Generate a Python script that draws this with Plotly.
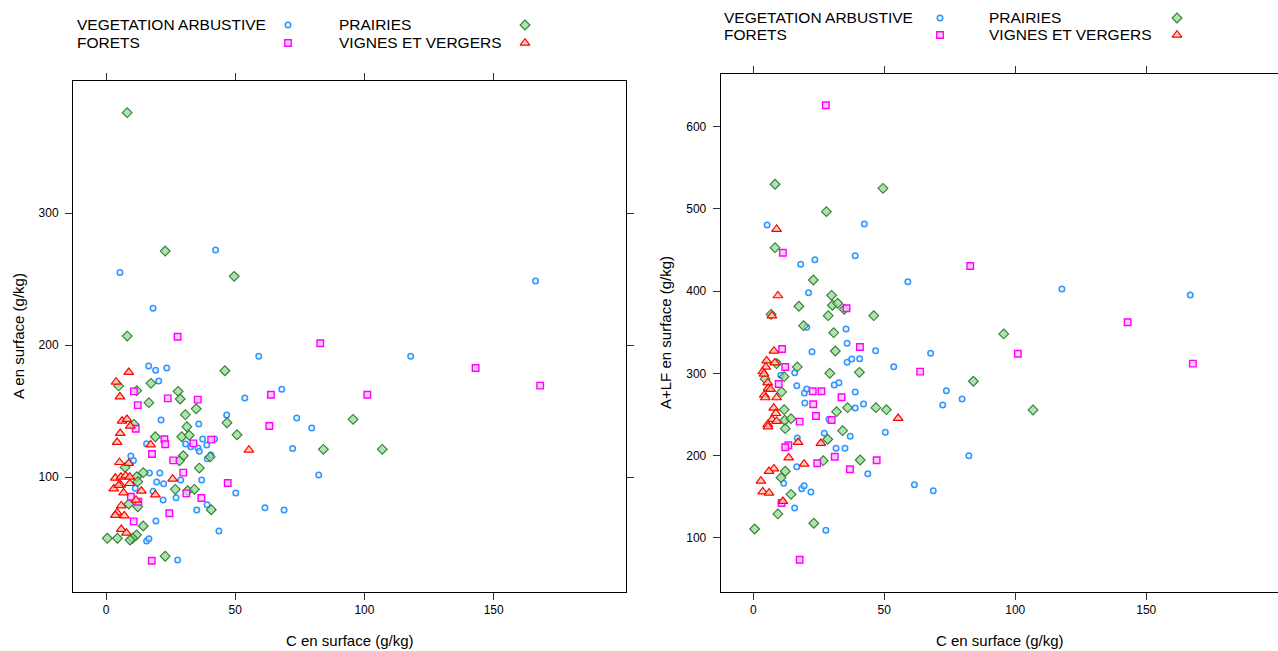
import plotly.graph_objects as go

W, H = 1278, 651

GROUPS = ["VEGETATION ARBUSTIVE", "PRAIRIES", "FORETS", "VIGNES ET VERGERS"]

# ---------------- Left panel: C en surface (x) vs A en surface (y) ----------------
left_veg_x = [42.4, 5.4, 18.2, 166.2, 59.1, 117.9, 16.5, 19.2, 23.5, 20.4, 68.0, 53.7, 46.7, 21.3, 35.9, 73.8,
              79.6, 37.4, 42.0, 30.8, 32.8, 35.6, 36.1, 39.0, 15.7, 72.2, 9.6, 10.6, 39.2, 40.6, 16.8, 20.8,
              82.3, 28.9, 37.0, 19.6, 22.3, 11.3, 18.2, 22.1, 27.1, 50.2, 39.1, 35.1, 61.5, 68.9, 19.3, 43.7,
              15.7, 16.6, 27.7]
left_veg_y = [272, 255, 227.8, 248.5, 191.4, 191.4, 184.1, 180.8, 182.6, 172.7, 166.4, 159.8, 147, 143.2, 140.2, 144.7,
              137.1, 128.8, 128.8, 125, 123, 122, 119.5, 124.2, 125.2, 121.7, 115.9, 112.6, 113.9, 116.7, 103, 103,
              101.5, 97.7, 97.7, 96.2, 94.9, 91.4, 89.2, 82.6, 84.3, 87.9, 79, 75, 76.8, 75, 66.7, 59.1,
              51.5, 53.3, 37.1]

left_pra_x = [8.2, 22.9, 49.6, 8.2, 46.0, 4.9, 17.4, 11.9, 27.9, 28.7, 16.6, 34.9, 30.7, 46.8, 95.6, 10.8,
              31.3, 19.1, 29.3, 32.2, 50.7, 84.1, 106.9, 29.9, 28.4, 40.3, 7.4, 14.4, 36.1, 11.9, 12.3, 26.8,
              31.6, 34.2, 8.8, 12.3, 40.7, 14.4, 11.8, 10.3, 0.5, 4.4, 9.3, 22.9]
left_pra_y = [376, 271.2, 252, 206.8, 180.5, 169, 171, 165.4, 164.9, 159.1, 156.3, 151.7, 147.2, 141.1, 143.7, 139.9,
              138.1, 130.5, 130.5, 131.6, 132, 121, 121, 116.1, 112.3, 115.2, 107.3, 103.3, 106.8, 100.2, 96.5, 90.7,
              89.6, 90.7, 79.5, 77.5, 75.2, 62.9, 56.1, 53.6, 53.6, 53.6, 52.3, 40]

left_for_x = [27.7, 82.9, 143.0, 168.0, 101.1, 10.8, 23.9, 35.5, 63.8, 12.3, 63.2, 11.5, 22.6, 22.9, 33.8, 40.7,
              17.8, 26.0, 29.9, 47.1, 31.1, 36.9, 24.5, 10.7, 17.7, 9.6, 12.5]
left_for_y = [206.3, 201.3, 182.6, 169.2, 162.3, 164.9, 159.6, 158.6, 162.3, 154.5, 138.6, 136.6, 128.6, 124.8, 125.5, 128.3,
              117.4, 112.6, 103.3, 95.5, 87.6, 84.1, 72.5, 66.4, 36.6, 85.1, 81.3]

left_vig_x = [8.8, 3.9, 5.4, 6.2, 8.1, 9.4, 5.5, 4.3, 17.3, 55.3, 5.2, 8.8, 25.8, 3.6, 5.8, 7.6,
              9.2, 5.7, 3.0, 9.2, 6.8, 4.9, 13.7, 11.6, 19.1, 5.9, 4.3, 7.1, 3.6, 5.9, 7.9]
left_vig_y = [179.3, 172, 160.8, 142.4, 143.7, 138.6, 133.1, 126.3, 124.5, 120.5, 111.1, 110.4, 98.5, 99.2, 100, 101,
              100, 93.9, 91.1, 95.2, 88.1, 93.7, 89.4, 82.6, 86.6, 78.3, 73, 70.7, 71, 60.4, 57.6]

# ---------------- Right panel: C en surface (x) vs A+LF en surface (y) ----------------
right_veg_x = [5.3, 42.4, 18.1, 23.5, 38.9, 59.0, 21.1, 117.8, 166.8, 20.4, 35.4, 35.8, 22.4, 46.7, 67.7, 35.8,
               37.6, 40.6, 53.6, 15.8, 10.5, 9.2, 16.6, 30.9, 32.7, 19.5, 20.4, 38.9, 73.7, 79.7, 72.3, 19.7,
               42.1, 38.9, 28.9, 50.4, 27.1, 37.0, 16.8, 31.6, 35.0, 82.3, 16.6, 43.7, 11.6, 61.5, 68.7, 18.5,
               19.4, 22.0, 15.8, 27.7]
right_veg_y = [480.5, 481.7, 432.7, 438.3, 443.2, 411.6, 398.2, 402.7, 395.4, 356.1, 354.1, 336.7, 326.5, 327.7, 324.5, 313.6,
               317.6, 318, 308.2, 301, 297.8, 313.1, 285.1, 286, 288.8, 276.3, 281.1, 277.5, 279.1, 269, 261.7, 264.1,
               262.9, 258, 244.3, 228.5, 227.3, 223.6, 221.6, 209, 209, 200, 186.7, 178.2, 166.5, 164.8, 157.5, 159.9,
               163.6, 155.9, 136.5, 109.4]

right_pra_x = [8.3, 49.5, 27.9, 8.3, 22.9, 29.9, 17.4, 30.2, 32.2, 34.7, 6.8, 28.6, 46.0, 19.2, 30.7, 95.6,
               106.8, 84.0, 31.3, 8.9, 16.8, 29.2, 40.5, 11.8, 4.5, 10.8, 36.0, 46.8, 50.8, 11.8, 31.8, 12.0,
               14.4, 12.2, 34.1, 28.4, 26.7, 40.8, 12.2, 10.6, 14.4, 9.4, 23.1, 0.5]
right_pra_y = [530, 525, 496.7, 452.9, 413.6, 395, 381.7, 382.9, 385.3, 378, 371.9, 370.2, 370.2, 358.1, 349.6, 348,
               255.6, 290.5, 327.3, 311.9, 307.9, 300.2, 301.4, 296.1, 293.3, 277.5, 258.4, 258.4, 256, 256, 253.5, 243.1,
               245, 232.9, 230.4, 220, 194, 194.8, 181.1, 173.3, 153.1, 129.2, 117.9, 110.9]

right_for_x = [27.7, 11.3, 82.8, 35.6, 142.9, 101.0, 167.8, 40.7, 11.0, 12.2, 63.7, 9.7, 22.7, 26.0, 33.7, 22.9,
               23.9, 29.9, 17.7, 13.4, 12.2, 31.1, 47.1, 24.4, 36.9, 10.8, 17.7]
right_for_y = [626, 446.8, 430.7, 379.2, 362.2, 324, 311.9, 332.2, 329.8, 307.9, 302.2, 287.2, 278.3, 278.3, 271, 262.5,
               248.3, 243.5, 241.4, 212.7, 210.3, 198.8, 194.5, 190.8, 183.5, 142.5, 73.6]

right_vig_x = [8.9, 9.4, 7.1, 7.9, 5.1, 8.2, 4.8, 3.6, 4.1, 5.5, 5.7, 6.6, 4.2, 4.6, 8.9, 7.8,
               8.6, 7.2, 8.9, 5.5, 5.6, 55.3, 17.1, 25.8, 13.5, 19.4, 7.9, 6.0, 2.9, 3.6, 6.0, 11.3]
right_vig_y = [475.3, 394.6, 370.2, 327.3, 315.5, 313.1, 307.9, 302.2, 299.4, 288.8, 282, 280.8, 273.8, 270.6, 270.6, 258,
               251.5, 244.3, 242, 238, 235.3, 245.5, 216.3, 215.1, 197.6, 190, 184.2, 181.1, 169.3, 156.3, 154.7, 144.6]

x_ticks = [0, 50, 100, 150]
left_y_ticks = [100, 200, 300]
right_y_ticks = [100, 200, 300, 400, 500, 600]

x_title = "C en surface (g/kg)"
left_y_title = "A en surface (g/kg)"
right_y_title = "A+LF en surface (g/kg)"

# ---------------- styles ----------------
FONT = "Liberation Sans, Arial, sans-serif"
STYLE = {
    "VEGETATION ARBUSTIVE": dict(symbol="circle", size=5.5, color="rgba(220,238,255,0.6)",
                                 line=dict(color="#2f95ff", width=1.5)),
    "PRAIRIES": dict(symbol="diamond", size=7.5, color="rgba(150,215,150,0.75)",
                     line=dict(color="#2f7f2f", width=1.1)),
    "FORETS": dict(symbol="square", size=6.5, color="rgba(255,195,255,0.8)",
                   line=dict(color="#ff00ff", width=1.4)),
    "VIGNES ET VERGERS": dict(symbol="triangle-up", size=8.5, color="rgba(255,200,170,0.85)",
                              line=dict(color="#ff0000", width=1.2)),
}

left_data = {
    "VEGETATION ARBUSTIVE": (left_veg_x, left_veg_y),
    "PRAIRIES": (left_pra_x, left_pra_y),
    "FORETS": (left_for_x, left_for_y),
    "VIGNES ET VERGERS": (left_vig_x, left_vig_y),
}
right_data = {
    "VEGETATION ARBUSTIVE": (right_veg_x, right_veg_y),
    "PRAIRIES": (right_pra_x, right_pra_y),
    "FORETS": (right_for_x, right_for_y),
    "VIGNES ET VERGERS": (right_vig_x, right_vig_y),
}

fig = go.Figure()
for g in GROUPS:
    x, y = left_data[g]
    fig.add_trace(go.Scatter(x=x, y=y, mode="markers", marker=STYLE[g], name=g,
                             showlegend=False, xaxis="x", yaxis="y", hoverinfo="x+y"))
for g in GROUPS:
    x, y = right_data[g]
    fig.add_trace(go.Scatter(x=x, y=y, mode="markers", marker=STYLE[g], name=g,
                             showlegend=False, xaxis="x2", yaxis="y2", hoverinfo="x+y"))

# ---------------- legends (keys drawn on a transparent pixel overlay axis) ----------------
LEG = [
    dict(t1=75, k1=288, t2=337, k2=525, r1=25, r2=43),
    dict(t1=722, k1=940, t2=987, k2=1177, r1=18, r2=35),
]
LEG_ORDER = [("VEGETATION ARBUSTIVE", 0, 0), ("PRAIRIES", 1, 0), ("FORETS", 0, 1), ("VIGNES ET VERGERS", 1, 1)]

annotations = []
for L in LEG:
    for g, col, row in LEG_ORDER:
        tx = L["t1"] if col == 0 else L["t2"]
        kx = L["k1"] if col == 0 else L["k2"]
        ry = L["r1"] if row == 0 else L["r2"]
        annotations.append(dict(x=tx / W, y=1 - ry / H, xref="paper", yref="paper", text=g,
                                showarrow=False, xanchor="left", yanchor="middle",
                                font=dict(family=FONT, size=15.5, color="#000")))
        fig.add_trace(go.Scatter(x=[kx], y=[ry], mode="markers", marker=STYLE[g], showlegend=False,
                                 xaxis="x3", yaxis="y3", hoverinfo="skip"))

TITLE_FONT = dict(family=FONT, size=15, color="#000")
annotations += [
    dict(x=350 / W, y=1 - 640 / H, xref="paper", yref="paper", text=x_title, showarrow=False,
         xanchor="center", yanchor="middle", font=TITLE_FONT),
    dict(x=1000 / W, y=1 - 640 / H, xref="paper", yref="paper", text=x_title, showarrow=False,
         xanchor="center", yanchor="middle", font=TITLE_FONT),
    dict(x=18 / W, y=1 - 336 / H, xref="paper", yref="paper", text=left_y_title, showarrow=False,
         xanchor="center", yanchor="middle", textangle=-90, font=TITLE_FONT),
    dict(x=665 / W, y=1 - 333 / H, xref="paper", yref="paper", text=right_y_title, showarrow=False,
         xanchor="center", yanchor="middle", textangle=-90, font=TITLE_FONT),
]

axis_common = dict(showgrid=False, zeroline=False, showline=True, linecolor="#000", linewidth=1,
                   ticks="outside", ticklen=7, tickcolor="#333", tickwidth=1,
                   tickfont=dict(family=FONT, size=12, color="#000"))

fig.update_layout(
    width=W, height=H,
    margin=dict(l=0, r=0, t=0, b=0),
    paper_bgcolor="white", plot_bgcolor="rgba(0,0,0,0)",
    showlegend=False,
    annotations=annotations,
    xaxis=dict(domain=[73 / W, 626 / W], range=[-12.77, 201.2], tickvals=x_ticks,
               mirror="ticks", anchor="y", **axis_common),
    yaxis=dict(domain=[(H - 592) / H, (H - 81) / H], range=[12.9, 400], tickvals=left_y_ticks,
               mirror="ticks", anchor="x", ticklabelstandoff=4, **axis_common),
    xaxis2=dict(domain=[720.7 / W, 1.0], range=[-12.44, 200.3], tickvals=x_ticks,
                mirror="ticks", anchor="y2", **axis_common),
    yaxis2=dict(domain=[(H - 591.7) / H, (H - 74) / H], range=[34.7, 664], tickvals=right_y_ticks,
                mirror=False, anchor="x2", ticklabelstandoff=4, **axis_common),
    xaxis3=dict(domain=[0, 1], range=[0, W], visible=False, fixedrange=True, anchor="y3"),
    yaxis3=dict(domain=[0, 1], range=[H, 0], visible=False, fixedrange=True, anchor="x3"),
)

fig.write_html("out.html")
